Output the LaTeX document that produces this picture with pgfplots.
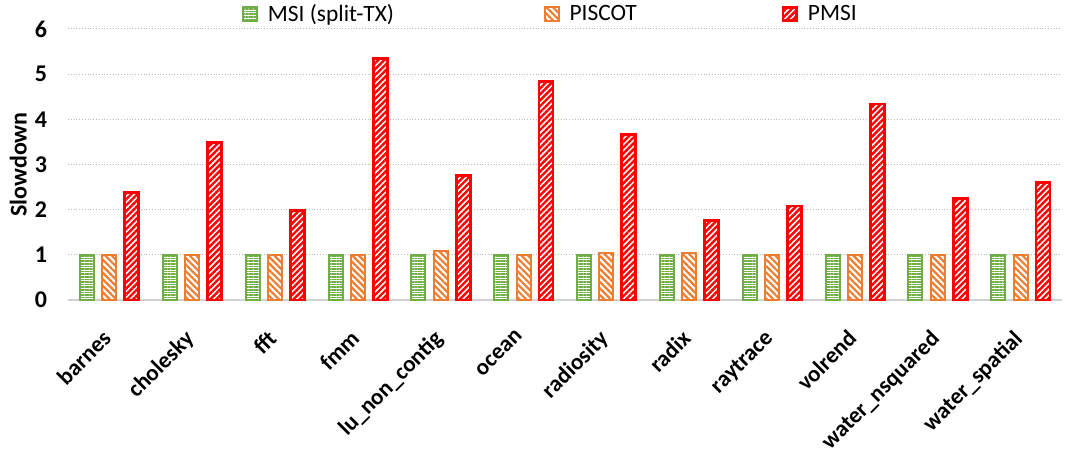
\documentclass[border=0pt]{standalone}
\usepackage{pgfplots}
\pgfplotsset{compat=1.18}
\usetikzlibrary{patterns.meta}
\usepackage{fontspec}
\setmainfont{Carlito}
\definecolor{cgreen}{HTML}{70AD47}
\definecolor{corange}{HTML}{ED7D31}
\definecolor{cred}{HTML}{FF0000}
\begin{document}
\begin{tikzpicture}
\begin{axis}[
  scale only axis, width=497pt, height=135.5pt,
  ymin=0, ymax=6, ytick={0,1,2,3,4,5,6},
  xmin=-0.5, xmax=11.5,
  xtick={0,1,2,3,4,5,6,7,8,9,10,11},
  xticklabels={barnes,cholesky,fft,fmm,lu\_non\_contig,ocean,radiosity,radix,raytrace,volrend,water\_nsquared,water\_spatial},
  /pgf/number format/assume math mode=true,
  axis lines*=left,
  y axis line style={draw=none},
  x axis line style={draw=gray!35, line width=0.9pt},
  major tick length=0pt,
  ymajorgrids, grid style={densely dotted, gray!55, line width=0.5pt},
  yticklabel style={font=\bfseries\fontsize{12}{14}\selectfont, xshift=-7pt},
  xticklabel style={font=\bfseries\fontsize{11.5}{13}\selectfont, rotate=45, anchor=north east, yshift=-6pt, xshift=-12pt, inner sep=1pt},
  ylabel={Slowdown},
  every axis y label/.style={at={(rel axis cs:-0.05,0.5)}, rotate=90, anchor=center, font=\bfseries\fontsize{12}{14}\selectfont},
  ybar=4.2pt, bar width=7pt,
  legend columns=3,
  legend style={at={(rel axis cs:0.175,1.055)}, anchor=west, draw=none, fill=none,
    font=\fontsize{11.7}{13}\selectfont, inner sep=0pt,
    /tikz/every odd column/.append style={column sep=3pt}},
  legend image code/.code={\draw[#1] (0pt,-3.4pt) rectangle (6.8pt,3.4pt);},
  clip=false,
]
\addplot[draw=cgreen, line width=1pt, fill=white,
  postaction={pattern={Lines[angle=0,distance=1.3pt,line width=0.75pt]}, pattern color=cgreen}]
  coordinates {(0,1) (1,1) (2,1) (3,1) (4,1) (5,1) (6,1) (7,1) (8,1) (9,1) (10,1) (11,1)};
\addlegendentry{\makebox[136pt][l]{MSI (split-TX)}}
\addplot[draw=corange, line width=1pt, fill=white,
  postaction={pattern={Lines[angle=-45,distance=2.3pt,line width=1.1pt]}, pattern color=corange}]
  coordinates {(0,1) (1,1) (2,1) (3,1) (4,1.08) (5,1) (6,1.03) (7,1.03) (8,1) (9,1) (10,1) (11,1)};
\addlegendentry{\makebox[104pt][l]{PISCOT}}
\addplot[draw=cred, line width=1.4pt, fill=white,
  postaction={pattern={Lines[angle=45,distance=2.1pt,line width=1.2pt]}, pattern color=cred}]
  coordinates {(0,2.38) (1,3.48) (2,1.98) (3,5.34) (4,2.75) (5,4.83) (6,3.66) (7,1.76) (8,2.08) (9,4.34) (10,2.24) (11,2.61)};
\addlegendentry{PMSI}
\path (rel axis cs:-0.0684,-0.535) rectangle (rel axis cs:1.003,1.107);
\end{axis}
\end{tikzpicture}
\end{document}
